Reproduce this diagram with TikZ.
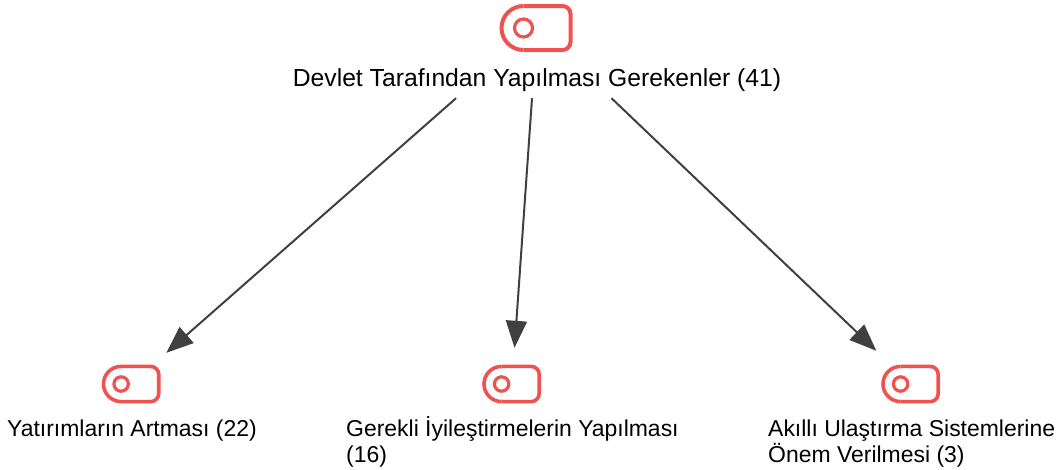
\documentclass[tikz,border=0pt]{standalone}
\usepackage{fontspec}
\setmainfont{Liberation Sans}
\usetikzlibrary{arrows.meta}
\definecolor{tagred}{HTML}{EF5350}
\definecolor{linkgray}{HTML}{404040}
\tikzset{
	tagicon/.pic={
		\draw[tagred,line width=#1*1pt,rounded corners=8pt] (-13,-22) -- (34,-22) -- (34,22) -- (-13,22);
		\draw[tagred,line width=#1*1pt] (-13,-22) arc (-90:-270:22);
		\draw[tagred,line width=3.2pt] (-13,0) circle (9);
	},
	hub/.style={minimum width=400pt,minimum height=142pt,inner sep=0pt},
	leaf/.style={minimum width=110pt,minimum height=62pt,inner sep=0pt},
	caption/.style={font=\fontsize{22.95}{26.5}\selectfont,inner sep=0pt},
	link/.style={linkgray,line width=2pt,-{Triangle[length=27pt,width=21pt]}}
}
\begin{document}
\begin{tikzpicture}[x=1pt,y=-1pt]
	\useasboundingbox (0,0) rectangle (1059,469);
	\node[hub] (devlet) at (537,27) {};
	\node[leaf] (yatirim) at (131,384) {};
	\node[leaf,minimum height=72pt] (gerekli) at (512,384) {};
	\node[leaf,minimum height=66pt] (akilli) at (911,384) {};
	\pic[scale=1] at (536.5,28) {tagicon=4};
	\pic[scale=.8] at (131.5,384) {tagicon=3.6};
	\pic[scale=.8] at (512,384) {tagicon=3.6};
	\pic[scale=.8] at (911,384) {tagicon=3.6};
	\node[caption,font=\fontsize{24.7}{30}\selectfont] (devletlabel) at (537,80) {Devlet Tarafından Yapılması Gerekenler (41)};
	\node[caption,anchor=north west,align=left] (yatirimlabel) at (7,416) {\vphantom{İ}Yatırımların Artması (22)};
	\node[caption,anchor=north west,align=left] (gereklilabel) at (346,416) {\vphantom{İ}Gerekli İyileştirmelerin Yapılması\\(16)};
	\node[caption,anchor=north west,align=left] (akillilabel) at (768,416) {\vphantom{İ}Akıllı Ulaştırma Sistemlerine\\Önem Verilmesi (3)};
	\draw[link] (devlet) -- (yatirim);
	\draw[link] (devlet) -- (gerekli);
	\draw[link] (devlet) -- (akilli);
\end{tikzpicture}
\end{document}
